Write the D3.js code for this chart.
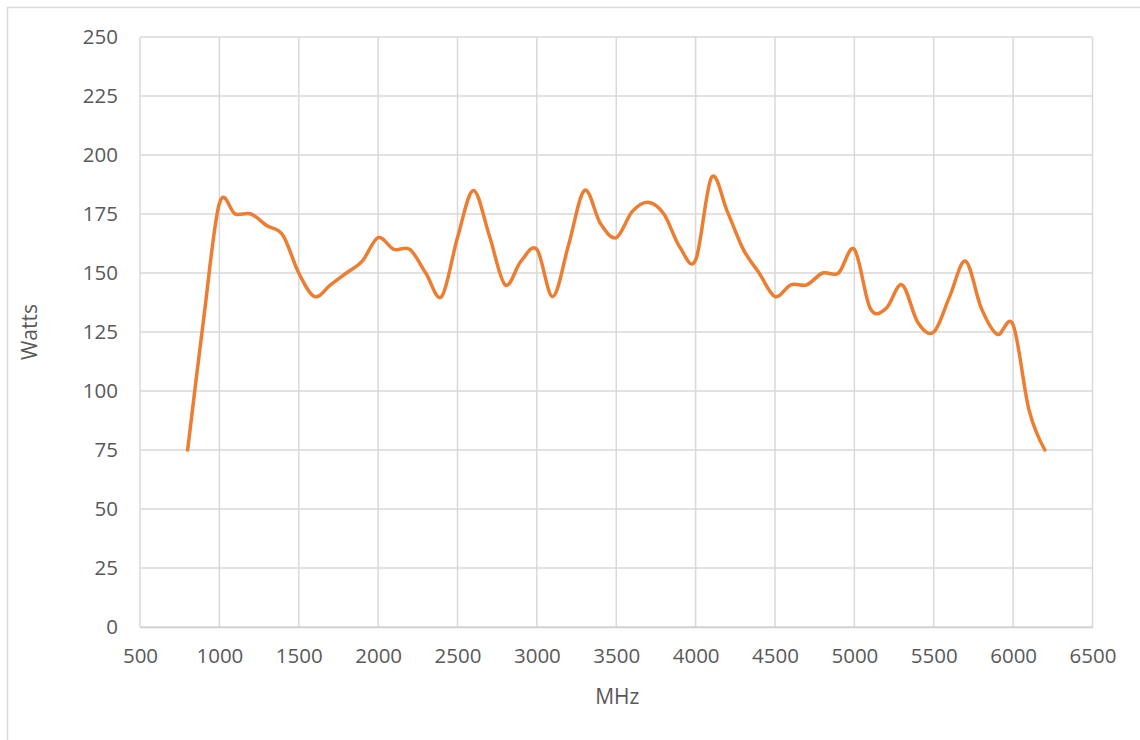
<!DOCTYPE html>
<html>
<head>
<meta charset="utf-8">
<script src="https://cdn.jsdelivr.net/npm/d3@7"></script>
<style>
  html, body { margin: 0; padding: 0; background: #ffffff; }
  svg { display: block; }
  text { font-family: "Open Sans", "Noto Sans", sans-serif; fill: #595959; }
</style>
</head>
<body>
<svg id="chart" width="1140" height="740"></svg>
<script>
// Data
const mhz = [800, 900, 1000, 1100, 1200, 1300, 1400, 1500, 1600, 1700, 1800, 1900,
  2000, 2100, 2200, 2300, 2400, 2500, 2600, 2700, 2800, 2900, 3000, 3100, 3200,
  3300, 3400, 3500, 3600, 3700, 3800, 3900, 4000, 4100, 4200, 4300, 4400, 4500,
  4600, 4700, 4800, 4900, 5000, 5100, 5200, 5300, 5400, 5500, 5600, 5700, 5800,
  5900, 6000, 6100, 6200];
const watts = [75, 130, 179.5, 175, 175, 170, 166, 150, 140, 145, 150, 155,
  165, 160, 160, 150, 140, 165, 185, 166, 145, 155, 160, 140, 162,
  185, 171, 165, 176, 180, 175, 161, 155.5, 190.5, 176, 160, 150, 140,
  145, 145, 150, 150, 160, 135, 135, 145, 129, 125, 140, 155, 135,
  124, 128, 92, 75];
const xTicks = [500, 1000, 1500, 2000, 2500, 3000, 3500, 4000, 4500, 5000, 5500, 6000, 6500];
const yTicks = [0, 25, 50, 75, 100, 125, 150, 175, 200, 225, 250];
const xTitle = "MHz";
const yTitle = "Watts";

const svg = d3.select("#chart");
const pLeft = 140, pRight = 1092.5, pTop = 37, pBottom = 627;

// outer chart border
svg.append("rect")
  .attr("x", 7.5).attr("y", 7.5)
  .attr("width", 1160).attr("height", 760)
  .attr("fill", "none").attr("stroke", "#d9d9d9").attr("stroke-width", 1.5);

const x = d3.scaleLinear().domain([500, 6500]).range([pLeft, pRight]);
const y = d3.scaleLinear().domain([0, 250]).range([pBottom, pTop]);

// gridlines
const grid = svg.append("g");
grid.selectAll("line.h").data(yTicks).join("line")
  .attr("x1", pLeft).attr("x2", pRight)
  .attr("y1", d => y(d)).attr("y2", d => y(d))
  .attr("stroke", "#d9d9d9").attr("stroke-width", 1.5);
grid.selectAll("line.v").data(xTicks).join("line")
  .attr("x1", d => x(d)).attr("x2", d => x(d))
  .attr("y1", pTop).attr("y2", pBottom)
  .attr("stroke", "#d9d9d9").attr("stroke-width", 1.5);

// axes (labels via d3 axis)
const xAxis = svg.append("g").attr("transform", `translate(0,${pBottom})`)
  .call(d3.axisBottom(x).tickValues(xTicks).tickSize(0).tickPadding(21).tickFormat(d3.format("d")));
xAxis.select(".domain").attr("stroke", "#d0d0d0").attr("stroke-width", 1.5);
xAxis.selectAll("text").attr("font-size", "20.5px").attr("fill", "#595959")
  .attr("font-family", "'Open Sans', sans-serif");

const yAxis = svg.append("g").attr("transform", `translate(${pLeft},0)`)
  .call(d3.axisLeft(y).tickValues(yTicks).tickSize(0).tickPadding(22).tickFormat(d3.format("d")));
yAxis.select(".domain").remove();
yAxis.selectAll("text").attr("font-size", "20.5px").attr("fill", "#595959")
  .attr("font-family", "'Open Sans', sans-serif");

// axis titles
svg.append("text").attr("x", (pLeft + pRight) / 2 + 1).attr("y", 704)
  .attr("text-anchor", "middle").attr("font-size", "21px").text(xTitle);
svg.append("text")
  .attr("transform", `translate(37,${(pTop + pBottom) / 2}) rotate(-90)`)
  .attr("text-anchor", "middle").attr("font-size", "21px").text(yTitle);

// series line (Excel-style smoothed)
const pts = mhz.map((m, i) => [m, watts[i]]);
const line = d3.line()
  .x(d => x(d[0])).y(d => y(d[1]))
  .curve(d3.curveCardinal.tension(0));
svg.append("path").datum(pts)
  .attr("d", line)
  .attr("fill", "none")
  .attr("stroke", "#ED7D31")
  .attr("stroke-width", 3.5)
  .attr("stroke-linejoin", "round")
  .attr("stroke-linecap", "round");
</script>
</body>
</html>
